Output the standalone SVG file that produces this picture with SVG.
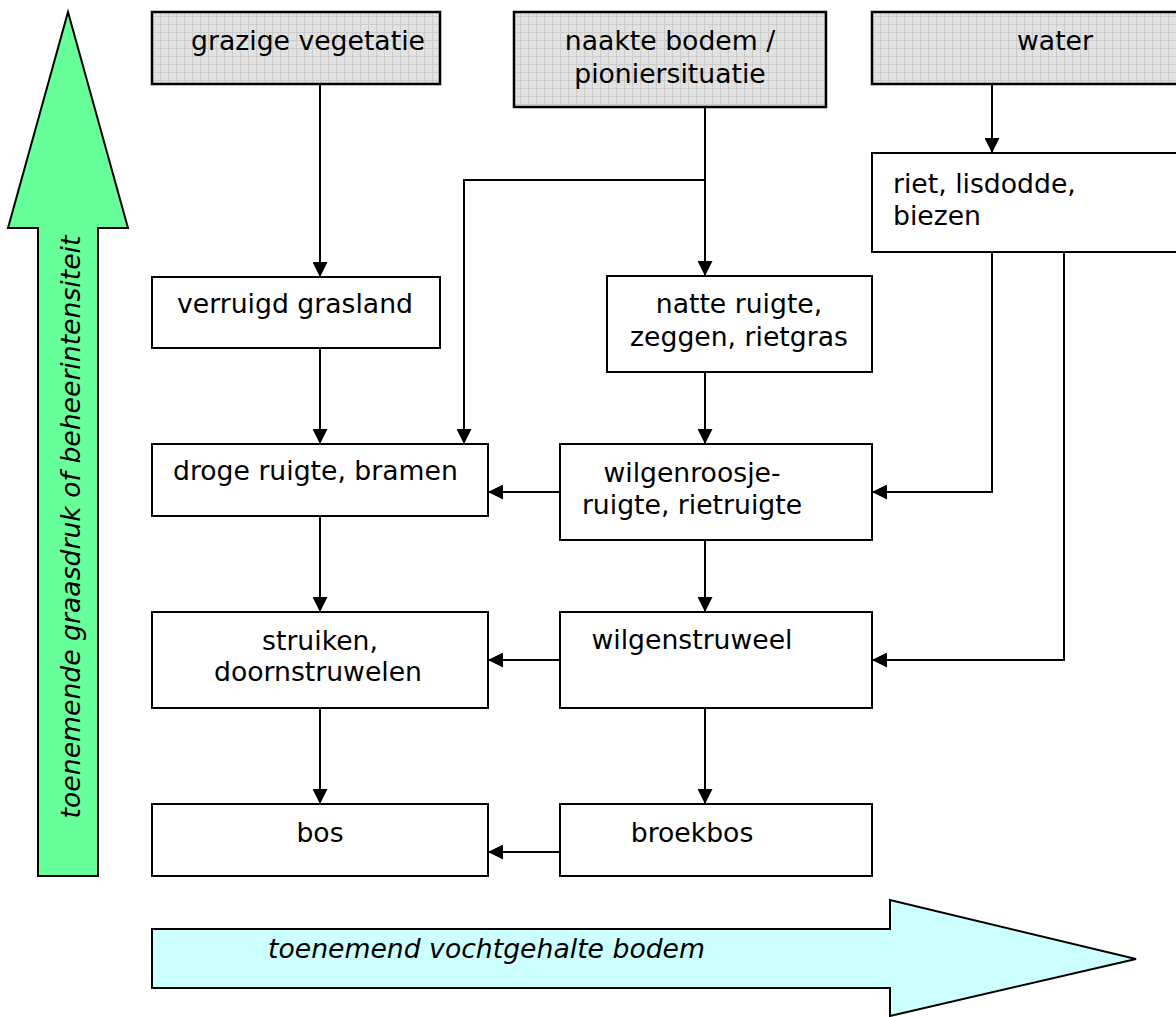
<svg xmlns="http://www.w3.org/2000/svg" width="1176" height="1017" viewBox="0 0 1176 1017">
<style>
.box{fill:#fff;stroke:#000;stroke-width:2}
.grey{fill:url(#grid);stroke:#000;stroke-width:2.5}
.t{font-family:"DejaVu Sans",Verdana,sans-serif;font-size:26.67px;fill:#000}
.c{text-anchor:middle}
.i{font-style:italic}
.con{fill:none;stroke:#000;stroke-width:2;marker-end:url(#ah)}
</style>
<defs>
<pattern id="grid" width="8" height="8" patternUnits="userSpaceOnUse">
<rect width="8" height="8" fill="#e2e2e2"/>
<path d="M0 0.5H8M0.5 0V8" stroke="#cccccc" stroke-width="1"/>
</pattern>
<marker id="ah" markerWidth="15" markerHeight="15" viewBox="0 0 15 15" refX="15" refY="7.5" orient="auto" markerUnits="userSpaceOnUse">
<path d="M0 0L15 7.5L0 15Z" fill="#000"/>
</marker>
</defs>
<g id="arrow-vertical">
<path d="M68 12L128 228H98V876H38V228H8Z" fill="#66ff99" stroke="#000" stroke-width="2"/>
<text class="t i c" transform="translate(80 527) rotate(-90)">toenemende graasdruk of beheerintensiteit</text>
</g>
<g id="arrow-horizontal">
<path d="M152 929H890V900L1136 959L890 1016V988H152Z" fill="#ccffff" stroke="#000" stroke-width="2"/>
<text class="t i" x="268" y="958">toenemend vochtgehalte bodem</text>
</g>
<g id="connectors">
<path class="con" d="M320 84V277"/>
<path class="con" d="M705 107V276"/>
<path class="con" d="M705 180H464V444"/>
<path class="con" d="M992 84V153"/>
<path class="con" d="M320 348V444"/>
<path class="con" d="M705 372V444"/>
<path class="con" d="M992 252V492H872"/>
<path class="con" d="M1064 252V660H872"/>
<path class="con" d="M560 492H488"/>
<path class="con" d="M320 516V612"/>
<path class="con" d="M705 540V612"/>
<path class="con" d="M560 660H488"/>
<path class="con" d="M320 708V804"/>
<path class="con" d="M705 708V804"/>
<path class="con" d="M560 852H488"/>
</g>
<g id="n-grazige"><rect class="grey" x="152" y="12" width="288" height="72"/><text class="t c" x="308" y="50">grazige vegetatie</text></g>
<g id="n-naakte"><rect class="grey" x="514" y="12" width="312" height="95"/><text class="t c" x="670" y="50">naakte bodem /</text><text class="t c" x="670" y="83">pioniersituatie</text></g>
<g id="n-water"><rect class="grey" x="872" y="12" width="320" height="72"/><text class="t c" x="1055" y="50">water</text></g>
<g id="n-riet"><rect class="box" x="872" y="153" width="320" height="99"/><text class="t" x="893" y="193">riet, lisdodde,</text><text class="t" x="893" y="225">biezen</text></g>
<g id="n-verruigd"><rect class="box" x="152" y="277" width="288" height="71"/><text class="t c" x="295" y="313">verruigd grasland</text></g>
<g id="n-natte"><rect class="box" x="607" y="276" width="265" height="96"/><text class="t c" x="739" y="313">natte ruigte,</text><text class="t c" x="739" y="346">zeggen, rietgras</text></g>
<g id="n-droge"><rect class="box" x="152" y="444" width="336" height="72"/><text class="t" x="173" y="480">droge ruigte, bramen</text></g>
<g id="n-wilgenroosje"><rect class="box" x="560" y="444" width="312" height="96"/><text class="t c" x="692" y="482">wilgenroosje-</text><text class="t c" x="692" y="514">ruigte, rietruigte</text></g>
<g id="n-struiken"><rect class="box" x="152" y="612" width="336" height="96"/><text class="t c" x="320" y="650">struiken,</text><text class="t c" x="318" y="681">doornstruwelen</text></g>
<g id="n-wilgenstruweel"><rect class="box" x="560" y="612" width="312" height="96"/><text class="t c" x="692" y="649">wilgenstruweel</text></g>
<g id="n-bos"><rect class="box" x="152" y="804" width="336" height="72"/><text class="t c" x="320" y="842">bos</text></g>
<g id="n-broekbos"><rect class="box" x="560" y="804" width="312" height="72"/><text class="t c" x="692" y="842">broekbos</text></g>
</svg>
